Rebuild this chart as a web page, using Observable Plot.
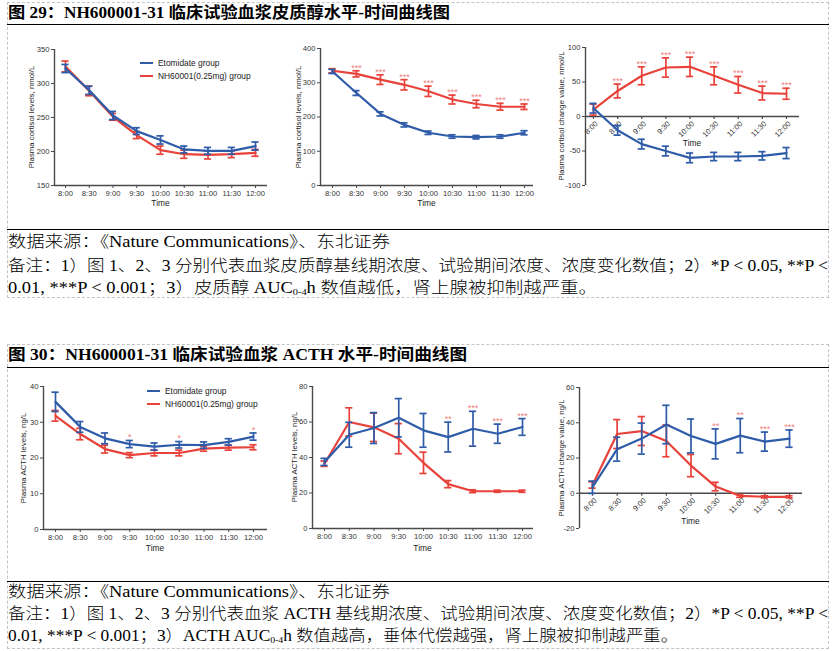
<!DOCTYPE html>
<html><head><meta charset="utf-8">
<script src="https://cdn.jsdelivr.net/npm/d3@7"></script>
<script src="https://cdn.jsdelivr.net/npm/@observablehq/plot@0.6"></script>
<style>
body{margin:0;background:#fff;}
#page{position:relative;width:835px;height:651px;overflow:hidden;font-family:"Liberation Serif","Noto Sans CJK SC",serif;color:#000;}
.box{position:absolute;border:1px dashed #c4c4c4;box-sizing:border-box;}
.hr{position:absolute;left:7px;width:822px;height:0;border-top:1.6px solid #000;}
.line{position:absolute;left:8px;white-space:nowrap;transform-origin:0 50%;line-height:1;}
.title{font-weight:bold;font-size:16px;}
.note{font-size:16px;font-weight:300;}
.note sub{font-size:9px;vertical-align:-2px;}
.lab{position:absolute;white-space:nowrap;font-family:"Liberation Sans",Arial,sans-serif;color:#222;line-height:1;}
.sw{position:absolute;height:2px;}
</style></head>
<body><div id="page"></div>
<script>
// ---------- data ----------
const times = ["8:00","8:30","9:00","9:30","10:00","10:30","11:00","11:30","12:00"];
const seriesNames = ["Etomidate group","NH60001(0.25mg) group"];

// Fig 29 panel 1: baseline cortisol (nmol/L)
const cortBaseEto = [322,290,253,230,217,203,201,201,208];
const cortBaseEtoErr = [6,6,6,5,6,5,5,5,6];
const cortBaseNh = [325,289,251,224,202,196,195,196,198];
const cortBaseNhErr = [8,7,5,5,6,6,6,5,5];
// Fig 29 panel 2: trial cortisol
const cortTrialEto = [333,270,209,177,154,143,141,143,154];
const cortTrialEtoErr = [6,7,6,6,5,5,5,5,6];
const cortTrialNh = [335,326,309,294,275,251,238,230,230];
const cortTrialNhErr = [6,9,14,15,15,13,11,10,8];
const cortTrialStars = ["","***","***","***","***","***","***","***","***"];
// Fig 29 panel 3: cortisol change
const cortChgEto = [12,-20,-40,-50,-60,-58,-58,-57,-53];
const cortChgEtoErr = [7,7,7,7,7,6,6,6,8];
const cortChgNh = [10,37,59,71,72,59,46,34,33];
const cortChgNhErr = [8,10,13,14,14,13,12,10,8];
const cortChgStars = ["","***","***","***","***","***","***","***","***"];
// Fig 30 panel 1: baseline ACTH (ng/L)
const acthBaseEto = [35.7,28.7,25.5,23.9,23.2,23.7,23.6,24.5,26];
const acthBaseEtoErr = [2.7,1.5,1.5,1.0,1.0,0.9,0.9,0.9,1.0];
const acthBaseNh = [31.8,26.7,22.5,20.8,21.4,21.4,22.6,22.9,23.0];
const acthBaseNhErr = [1.5,1.6,1.1,0.7,0.8,0.8,0.7,0.7,0.7];
const acthBaseStars = ["","","","*","","*","","","*"];
// Fig 30 panel 2: trial ACTH
const acthTrialEto = [37.5,52.8,56.6,62.4,55.3,51.5,56.2,53.4,57.2];
const acthTrialEtoErr = [2,7,8.7,10.8,9.5,8.4,9.8,5.4,4.7];
const acthTrialNh = [36.5,60,57,50.6,37,25,21,21,21];
const acthTrialNhErr = [1.5,8,8,8.5,6,2,0.8,0.6,0.6];
const acthTrialStars = ["","","","","","**","***","***","***"];
// Fig 30 panel 3: ACTH change
const acthChgEto = [3.4,25,31,39,32.5,28,32.7,29.3,31];
const acthChgEtoErr = [3.5,6.8,8.8,10.9,9.6,8.5,9.7,5.4,4.9];
const acthChgNh = [4.7,33.6,35.3,29.7,15.7,3.8,-1.5,-2,-2];
const acthChgNhErr = [1.8,8.2,8.2,9,6.3,2.4,0.8,0.6,0.6];
const acthChgStars = ["","","","","","**","**","***","***"];

const BLUE = "#2f5ca8", RED = "#e8423a", STAR = "#f08080", AXIS = "#4a4a4a";
const page = document.getElementById("page");

function el(tag, cls, html, style){
  const e = document.createElement(tag);
  if (cls) e.className = cls;
  if (html != null) e.innerHTML = html;
  Object.assign(e.style, style || {});
  page.appendChild(e);
  return e;
}

// ---------- report frame ----------
el("div","box",null,{left:"7px",top:"2px",width:"822px",height:"296px"});
el("div","box",null,{left:"7px",top:"344px",width:"822px",height:"305px"});
[24,229,367,581].forEach(y => el("div","hr",null,{top:y+"px"}));

const textLines = [
  ["title","图 29：NH600001-31 临床试验血浆皮质醇水平-时间曲线图",13,442],
  ["note","数据来源：《Nature Communications》、东北证券",242,382],
  ["note","备注：1）图 1、2、3 分别代表血浆皮质醇基线期浓度、试验期间浓度、浓度变化数值；2）*P &lt; 0.05, **P &lt;",266,820],
  ["note","0.01, ***P &lt; 0.001；3）皮质醇 AUC<sub>0-4</sub>h 数值越低，肾上腺被抑制越严重。",288,589],
  ["title","图 30：NH600001-31 临床试验血浆 ACTH 水平-时间曲线图",355,459],
  ["note","数据来源：《Nature Communications》、东北证券",592,382],
  ["note","备注：1）图 1、2、3 分别代表血浆 ACTH 基线期浓度、试验期间浓度、浓度变化数值；2）*P &lt; 0.05, **P &lt;",614,820],
  ["note","0.01, ***P &lt; 0.001；3）ACTH AUC<sub>0-4</sub>h 数值越高，垂体代偿越强，肾上腺被抑制越严重。",636,670]
];
const lineEls = textLines.map(([cls, html, y, w]) => {
  const e = el("div","line "+cls,html,{top:y+"px"});
  e.dataset.w = w;
  return e;
});
function fitLines(){
  lineEls.forEach(e => {
    e.style.transform = "translateY(-50%)";
    const s = (+e.dataset.w) / e.getBoundingClientRect().width;
    e.style.transform = `translateY(-50%) scaleX(${s})`;
  });
}

// ---------- chart panels ----------
function panel(cfg){
  const {fx0,fx1,fy0,fy1,x8,x12,ydom,yticks,axisAt,rot,eto,etoErr,nh,nhErr,stars,starOn,ylabel,ylabX,timeY,legend} = cfg;
  const step = (x12 - x8) / 8;
  const ML = 40, MR = 12, MT = 14, MB = 34;
  const W = fx1 - fx0 + ML + MR, H = fy1 - fy0 + MT + MB;
  const xdom = [(fx0 - x8) / step, (fx1 - x8) / step];
  const upp = (ydom[1] - ydom[0]) / (fy1 - fy0);
  const cap = 3.6 / step;
  const mk = (m, e) => m.map((v, i) => ({i, v, lo: v - e[i], hi: v + e[i], s: stars ? stars[i] : ""}));
  const dNh = mk(nh, nhErr), dEto = mk(eto, etoErr);
  const idx = d3.range(times.length);
  const marks = [];
  marks.push(Plot.ruleX([xdom[0]], {stroke: AXIS, strokeWidth: 1.4}));
  marks.push(Plot.ruleY([axisAt], {stroke: AXIS, strokeWidth: 1.4}));
  marks.push(Plot.axisY({ticks: yticks, tickSize: 3, tickPadding: 2, fontSize: 7.6, tickFormat: d => String(d), label: null, stroke: AXIS}));
  if (!rot) {
    marks.push(Plot.axisX({ticks: idx, tickSize: 3, tickPadding: 2, fontSize: 7.6, tickFormat: i => times[i], label: null, stroke: AXIS}));
  } else {
    marks.push(Plot.ruleX(idx, {x: d => d, y1: () => axisAt, y2: () => axisAt - 3 * upp, stroke: AXIS, strokeWidth: 1.2}));
    marks.push(Plot.text(idx, {x: d => d, y: () => axisAt, text: d => times[d], rotate: -45, textAnchor: "end", dx: 3, dy: 6, fontSize: 7.6, fill: "#333"}));
  }
  for (const [d, c] of [[dNh, RED], [dEto, BLUE]]) {
    marks.push(Plot.line(d, {x: "i", y: "v", stroke: c, strokeWidth: 2.2}));
    marks.push(Plot.ruleX(d, {x: "i", y1: "lo", y2: "hi", stroke: c, strokeWidth: 1.7}));
    marks.push(Plot.ruleY(d, {y: "hi", x1: r => r.i - cap, x2: r => r.i + cap, stroke: c, strokeWidth: 1.7}));
    marks.push(Plot.ruleY(d, {y: "lo", x1: r => r.i - cap, x2: r => r.i + cap, stroke: c, strokeWidth: 1.7}));
  }
  if (stars) {
    const src = (starOn === "eto" ? dEto : dNh).filter(r => r.s);
    marks.push(Plot.text(src, {x: "i", y: "hi", text: "s", dy: -3, fill: STAR, fontSize: 9, fontFamily: "Liberation Sans, Arial"}));
  }
  const svg = Plot.plot({
    width: W, height: H, marginLeft: ML, marginRight: MR, marginTop: MT, marginBottom: MB,
    x: {domain: xdom, axis: rot ? null : undefined},
    y: {domain: ydom},
    style: {background: "transparent", overflow: "visible", color: "#333", fontFamily: "Liberation Sans, Arial, sans-serif"},
    marks
  });
  Object.assign(svg.style, {position: "absolute", left: (fx0 - ML) + "px", top: (fy0 - MT) + "px"});
  page.appendChild(svg);
  el("div","lab",ylabel,{left: ylabX + "px", top: ((fy0 + fy1) / 2) + "px", fontSize: "7.8px", transform: "translate(-50%,-50%) rotate(-90deg)"});
  el("div","lab","Time",{left: ((fx0 + fx1) / 2) + "px", top: timeY + "px", fontSize: "8.4px", transform: "translate(-50%,-50%)"});
  if (legend) {
    const [lx, ly] = legend;
    [[BLUE, seriesNames[0], 0], [RED, seriesNames[1], 13]].forEach(([c, t, off]) => {
      el("div","sw",null,{left: lx + "px", top: (ly + off - 1) + "px", width: "13px", background: c});
      el("div","lab",t,{left: (lx + 18) + "px", top: (ly + off) + "px", fontSize: "8.4px", transform: "translateY(-50%)"});
    });
  }
}

panel({fx0:54,fx1:267,fy0:49,fy1:185,x8:65,x12:255,ydom:[150,350],yticks:[150,200,250,300,350],axisAt:150,rot:false,
  eto:cortBaseEto,etoErr:cortBaseEtoErr,nh:cortBaseNh,nhErr:cortBaseNhErr,
  ylabel:"Plasma cortisol levels, nmol/L",ylabX:32,timeY:203,legend:[140,63]});
panel({fx0:320,fx1:533,fy0:48,fy1:185,x8:332,x12:524,ydom:[0,400],yticks:[0,100,200,300,400],axisAt:0,rot:false,
  eto:cortTrialEto,etoErr:cortTrialEtoErr,nh:cortTrialNh,nhErr:cortTrialNhErr,stars:cortTrialStars,starOn:"nh",
  ylabel:"Plasma cortisol levels, nmol/L",ylabX:299,timeY:203});
panel({fx0:585,fx1:799,fy0:47,fy1:185,x8:593,x12:786,ydom:[-100,100],yticks:[-100,-50,0,50,100],axisAt:0,rot:true,
  eto:cortChgEto,etoErr:cortChgEtoErr,nh:cortChgNh,nhErr:cortChgNhErr,stars:cortChgStars,starOn:"nh",
  ylabel:"Plasma cortisol change value, nmol/L",ylabX:562,timeY:143});
panel({fx0:43,fx1:267,fy0:386,fy1:529,x8:55,x12:253,ydom:[0,40],yticks:[0,10,20,30,40],axisAt:0,rot:false,
  eto:acthBaseEto,etoErr:acthBaseEtoErr,nh:acthBaseNh,nhErr:acthBaseNhErr,stars:acthBaseStars,starOn:"eto",
  ylabel:"Plasma ACTH levels, ng/L",ylabX:24,timeY:548,legend:[147,391]});
panel({fx0:312,fx1:533,fy0:386,fy1:528,x8:324,x12:522,ydom:[0,80],yticks:[0,20,40,60,80],axisAt:0,rot:false,
  eto:acthTrialEto,etoErr:acthTrialEtoErr,nh:acthTrialNh,nhErr:acthTrialNhErr,stars:acthTrialStars,starOn:"eto",
  ylabel:"Plasma ACTH levels, ng/L",ylabX:295,timeY:548});
panel({fx0:579,fx1:802,fy0:387,fy1:528,x8:592,x12:789,ydom:[-20,60],yticks:[-20,0,20,40,60],axisAt:0,rot:true,
  eto:acthChgEto,etoErr:acthChgEtoErr,nh:acthChgNh,nhErr:acthChgNhErr,stars:acthChgStars,starOn:"eto",
  ylabel:"Plasma ACTH change value, ng/L",ylabX:562,timeY:521});

fitLines();
if (document.fonts && document.fonts.ready) document.fonts.ready.then(fitLines);
</script>
</body></html>
